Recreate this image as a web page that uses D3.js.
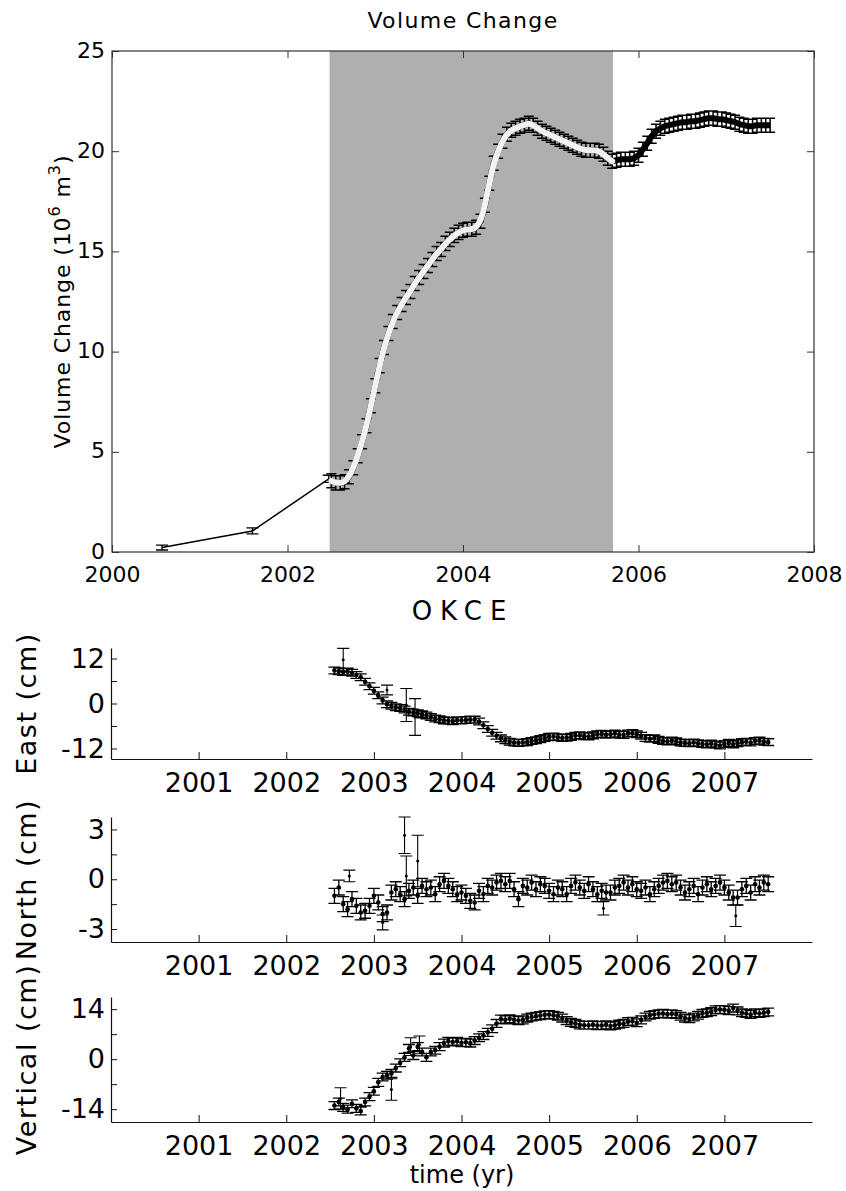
<!DOCTYPE html>
<html>
<head>
<meta charset="utf-8">
<script src="https://cdn.jsdelivr.net/npm/d3@7"></script>
<style>
  body { margin:0; background:#fff; }
  svg { display:block; font-family:"DejaVu Sans", sans-serif; }
</style>
</head>
<body>
<svg id="chart" width="846" height="1191"></svg>
<script>
// ---------- DATA ----------
// Volume change (10^6 m^3): early sparse points
const volPreYears = [2000.57, 2001.60, 2002.47];
const volPreValues = [0.22, 1.05, 3.65];
const volPreErrors = [0.12, 0.15, 0.18];

// Volume change dense series
const volYears = [
  2002.50,2002.55,2002.60,2002.65,2002.70,2002.75,2002.80,2002.85,2002.90,2002.95,
  2003.00,2003.05,2003.10,2003.15,2003.20,2003.25,2003.30,2003.35,2003.40,2003.45,
  2003.50,2003.55,2003.60,2003.65,2003.70,2003.75,2003.80,2003.85,2003.90,2003.95,
  2004.00,2004.05,2004.10,2004.15,2004.20,2004.25,2004.30,2004.35,2004.40,2004.45,
  2004.50,2004.55,2004.60,2004.65,2004.70,2004.75,2004.80,2004.85,2004.90,2004.95,
  2005.00,2005.05,2005.10,2005.15,2005.20,2005.25,2005.30,2005.35,2005.40,2005.45,
  2005.50,2005.55,2005.60,2005.65,2005.70,2005.75,2005.80,2005.85,2005.90,2005.95,
  2006.00,2006.05,2006.10,2006.15,2006.20,2006.25,2006.30,2006.35,2006.40,2006.45,
  2006.50,2006.55,2006.60,2006.65,2006.70,2006.75,2006.80,2006.85,2006.90,2006.95,
  2007.00,2007.05,2007.10,2007.15,2007.20,2007.25,2007.30,2007.35,2007.40,2007.45,
  2007.50];
const volValues = [
  3.55,3.45,3.45,3.50,3.75,4.20,4.80,5.50,6.30,7.30,
  8.30,9.30,10.20,10.90,11.50,11.95,12.35,12.70,13.00,13.40,
  13.70,14.00,14.30,14.60,14.90,15.10,15.40,15.60,15.80,15.95,
  16.05,16.10,16.10,16.20,16.50,17.30,18.40,19.40,20.00,20.50,
  20.85,21.05,21.15,21.25,21.30,21.40,21.30,21.15,21.00,20.90,
  20.80,20.70,20.60,20.50,20.40,20.30,20.20,20.10,20.05,20.05,
  20.05,20.00,19.85,19.65,19.50,19.55,19.60,19.60,19.60,19.65,
  19.80,20.10,20.40,20.75,21.00,21.15,21.25,21.30,21.35,21.40,
  21.45,21.45,21.50,21.50,21.55,21.60,21.65,21.65,21.60,21.60,
  21.55,21.50,21.45,21.35,21.30,21.25,21.25,21.30,21.30,21.30,
  21.30];
const volError = 0.35;
const shadeStart = 2002.48, shadeEnd = 2005.71;

// GPS station OKCE (cm)
const gpsYears = [
  2002.55,2002.60,2002.65,2002.70,2002.75,2002.80,2002.85,2002.90,2002.95,2003.00,
  2003.05,2003.10,2003.15,2003.20,2003.25,2003.30,2003.35,2003.40,2003.45,2003.50,
  2003.55,2003.60,2003.65,2003.70,2003.75,2003.80,2003.85,2003.90,2003.95,2004.00,
  2004.05,2004.10,2004.15,2004.20,2004.25,2004.30,2004.35,2004.40,2004.45,2004.50,
  2004.55,2004.60,2004.65,2004.70,2004.75,2004.80,2004.85,2004.90,2004.95,2005.00,
  2005.05,2005.10,2005.15,2005.20,2005.25,2005.30,2005.35,2005.40,2005.45,2005.50,
  2005.55,2005.60,2005.65,2005.70,2005.75,2005.80,2005.85,2005.90,2005.95,2006.00,
  2006.05,2006.10,2006.15,2006.20,2006.25,2006.30,2006.35,2006.40,2006.45,2006.50,
  2006.55,2006.60,2006.65,2006.70,2006.75,2006.80,2006.85,2006.90,2006.95,2007.00,
  2007.05,2007.10,2007.15,2007.20,2007.25,2007.30,2007.35,2007.40,2007.45,2007.50];
const eastValues = [
  8.8,8.6,8.4,8.5,8.2,7.6,7.0,5.8,4.6,3.4,
  2.2,0.8,-0.2,-0.6,-1.0,-1.2,-1.6,-2.2,-2.4,-2.6,
  -2.9,-3.2,-3.6,-4.0,-4.2,-4.5,-4.6,-4.7,-4.5,-4.5,
  -4.4,-4.3,-4.3,-4.8,-5.8,-6.8,-7.8,-8.6,-9.3,-9.8,
  -10.2,-10.4,-10.5,-10.4,-10.3,-10.0,-9.8,-9.5,-9.2,-8.9,
  -8.8,-9.0,-9.2,-9.1,-8.9,-8.6,-8.5,-8.7,-8.8,-8.5,
  -8.2,-8.1,-8.3,-8.2,-8.0,-8.3,-8.4,-8.0,-7.9,-8.2,
  -8.6,-9.2,-9.4,-9.3,-9.7,-10.0,-10.1,-9.9,-10.1,-10.4,
  -10.5,-10.6,-10.4,-10.6,-10.8,-10.9,-10.7,-11.0,-11.2,-10.8,
  -10.5,-10.9,-10.6,-10.3,-10.2,-10.4,-10.0,-9.9,-10.2,-10.3];
const eastError = 0.9;
const eastOutYears = [2002.65, 2003.15, 2003.37, 2003.47];
const eastOutValues = [11.7, 3.6, -0.4, -3.6];
const eastOutErrors = [3.0, 1.3, 4.4, 4.9];

const northValues = [
  -1.0,-0.5,-1.5,-1.8,-1.2,-1.6,-2.0,-1.9,-1.6,-1.0,
  -1.4,-2.1,-2.0,-0.8,-0.6,-0.9,-1.2,-0.7,-0.5,-1.0,
  -0.4,-0.6,-0.5,-0.9,-0.3,-0.1,-0.4,-0.6,-0.9,-0.8,
  -1.0,-1.3,-1.4,-0.7,-0.9,-0.4,-0.5,-0.2,-0.1,-0.3,
  -0.1,-0.6,-1.2,-0.4,-0.5,-0.2,-0.6,-0.3,-0.4,-0.7,
  -0.9,-0.5,-0.6,-0.9,-0.4,-0.2,-0.5,-0.7,-0.3,-0.6,
  -0.9,-0.7,-0.8,-0.8,-0.5,-0.4,-0.2,-0.5,-0.3,-0.6,
  -0.7,-0.5,-0.9,-0.6,-0.4,-0.2,-0.1,-0.3,-0.2,-0.5,
  -0.8,-0.6,-0.4,-0.9,-0.5,-0.3,-0.6,-0.4,-0.2,-0.5,
  -0.8,-1.1,-1.1,-0.6,-0.4,-0.8,-0.3,-0.5,-0.2,-0.3];
const northError = 0.45;
const northOutYears = [2002.72, 2003.10, 2003.35, 2003.37, 2003.50, 2005.62, 2007.13];
const northOutValues = [0.2, -2.6, 2.65, 0.2, 1.1, -1.75, -2.2];
const northOutErrors = [0.35, 0.45, 1.1, 1.2, 1.55, 0.4, 0.65];

const vertValues = [
  -13.0,-12.0,-13.5,-14.0,-12.5,-13.8,-14.5,-12.0,-10.5,-9.0,
  -6.5,-5.0,-4.5,-4.0,-2.5,-1.0,0.5,3.0,1.0,3.5,
  2.0,0.5,2.0,2.5,3.5,4.5,5.0,4.8,5.0,4.6,
  4.7,4.5,5.2,6.0,6.6,7.5,8.5,10.0,11.2,11.0,
  11.3,11.0,10.8,11.0,11.5,11.8,12.0,12.2,12.4,12.5,
  12.3,12.0,11.5,10.8,10.3,10.0,9.6,9.5,9.5,9.6,
  9.4,9.4,9.6,9.3,9.5,9.8,10.0,10.5,10.6,10.2,
  11.0,11.8,12.3,12.5,12.7,12.8,12.6,12.7,12.5,12.0,
  11.5,11.3,11.8,12.3,12.8,13.0,13.3,13.8,13.9,13.8,
  13.6,14.3,13.5,13.0,12.8,12.5,13.0,12.8,13.0,13.2];
const vertError = 1.1;
const vertOutYears = [2002.62, 2003.20, 2003.42, 2003.52];
const vertOutValues = [-11.0, -8.5, 3.5, 4.0];
const vertOutErrors = [3.0, 3.0, 2.5, 2.5];

const topXTicks = [2000, 2002, 2004, 2006, 2008];
const topYTicks = [0, 5, 10, 15, 20, 25];
const lowXTicks = [2001, 2002, 2003, 2004, 2005, 2006, 2007];
const eastTicks = [-12, -6, 0, 6, 12];
const eastLabels = [-12, 0, 12];
const northTicks = [-3, -1.5, 0, 1.5, 3];
const northLabels = [-3, 0, 3];
const vertTicks = [-14, -7, 0, 7, 14];
const vertLabels = [-14, 0, 14];

// ---------- DRAW ----------
const svg = d3.select("#chart");
svg.append("rect").attr("width", 846).attr("height", 1191).attr("fill", "#fff");

function errorBars(g, xs, ys, es, x, y, hw, color, sw, dotR) {
  const data = xs.map((d, i) => ({x: d, v: ys[i], e: Array.isArray(es) ? es[i] : es}));
  const eb = g.append("g").attr("stroke", color).attr("stroke-width", sw).attr("fill", "none");
  const p = d3.path();
  data.forEach(d => {
    const cx = x(d.x), y1 = y(d.v - d.e), y2 = y(d.v + d.e);
    p.moveTo(cx, y1); p.lineTo(cx, y2);
    p.moveTo(cx - hw, y1); p.lineTo(cx + hw, y1);
    p.moveTo(cx - hw, y2); p.lineTo(cx + hw, y2);
  });
  eb.append("path").attr("d", p.toString());
  if (dotR) {
    g.append("g").selectAll("circle").data(data).join("circle")
      .attr("cx", d => x(d.x)).attr("cy", d => y(d.v)).attr("r", dotR).attr("fill", color);
  }
}

// ---- Top chart ----
const tx = d3.scaleLinear().domain([2000, 2008]).range([112, 814]);
const ty = d3.scaleLinear().domain([0, 25]).range([552, 51]);
const topG = svg.append("g");

topG.append("rect")
  .attr("x", tx(shadeStart)).attr("y", ty(25))
  .attr("width", tx(shadeEnd) - tx(shadeStart)).attr("height", ty(0) - ty(25))
  .attr("fill", "#afafaf");

const preYears = volPreYears.concat([volYears[0]]);
const preVals = volPreValues.concat([volValues[0]]);
topG.append("path")
  .attr("d", d3.line().x((d, i) => tx(preYears[i])).y(d => ty(d))(preVals))
  .attr("fill", "none").attr("stroke", "#000").attr("stroke-width", 1.5);
errorBars(topG, volPreYears, volPreValues, volPreErrors, tx, ty, 6, "#000", 1.3, 0);

topG.append("path")
  .attr("d", d3.line().x((d, i) => tx(volYears[i])).y(d => ty(d))(volValues))
  .attr("fill", "none").attr("stroke", "#000").attr("stroke-width", 6)
  .attr("stroke-linejoin", "round");
errorBars(topG, volYears, volValues, volError, tx, ty, 5, "#000", 1.5, 0);

const shadeIdx = volYears.map((d, i) => i).filter(i => volYears[i] >= shadeStart && volYears[i] <= shadeEnd);
topG.append("path")
  .attr("d", d3.line().curve(d3.curveBasis).x(i => tx(volYears[i])).y(i => ty(volValues[i]))(shadeIdx))
  .attr("fill", "none").attr("stroke", "#f2f2f2").attr("stroke-width", 6)
  .attr("stroke-linecap", "round");

const axColor = "#333";
const bx = topG.append("g").attr("transform", `translate(0,${ty(0)})`)
  .call(d3.axisBottom(tx).tickValues(topXTicks).tickSize(-7).tickSizeOuter(0).tickPadding(14).tickFormat(d3.format("d")));
const tX = topG.append("g").attr("transform", `translate(0,${ty(25)})`)
  .call(d3.axisTop(tx).tickValues(topXTicks).tickSize(-7).tickSizeOuter(0).tickFormat(""));
const ly = topG.append("g").attr("transform", `translate(${tx(2000)},0)`)
  .call(d3.axisLeft(ty).tickValues(topYTicks).tickSize(-7).tickSizeOuter(0).tickPadding(7).tickFormat(d3.format("d")));
const ry = topG.append("g").attr("transform", `translate(${tx(2008)},0)`)
  .call(d3.axisRight(ty).tickValues(topYTicks).tickSize(-7).tickSizeOuter(0).tickFormat(""));
[bx, tX, ly, ry].forEach(g => {
  g.select(".domain").remove();
  g.selectAll("line").attr("stroke", axColor);
  g.selectAll("text").attr("font-size", 22).attr("fill", "#000").attr("font-family", "DejaVu Sans");
});
ly.selectAll("text").attr("dy", "0.28em");
topG.append("rect").attr("x", tx(2000)).attr("y", ty(25))
  .attr("width", tx(2008) - tx(2000)).attr("height", ty(0) - ty(25))
  .attr("fill", "none").attr("stroke", axColor).attr("stroke-width", 1.2);

topG.append("text").attr("x", (tx(2000) + tx(2008)) / 2).attr("y", 28)
  .attr("text-anchor", "middle").attr("font-size", 22).attr("letter-spacing", 1.4)
  .text("Volume Change");

const yl = topG.append("text").attr("transform", `translate(70,${(ty(0) + ty(25)) / 2}) rotate(-90)`)
  .attr("text-anchor", "middle").attr("font-size", 22).attr("letter-spacing", 0.9);
yl.append("tspan").text("Volume Change (10");
yl.append("tspan").attr("font-size", 16).attr("dy", -10).text("6");
yl.append("tspan").attr("dy", 10).text(" m");
yl.append("tspan").attr("font-size", 16).attr("dy", -10).text("3");
yl.append("tspan").attr("dy", 10).text(")");

svg.append("text").attr("x", 463).attr("y", 620).attr("text-anchor", "middle")
  .attr("font-size", 26).attr("letter-spacing", 8).text("OKCE");

// ---- Lower panels ----
const lx = d3.scaleLinear().domain([2000, 2008]).range([111, 812]);

function panel(cfg) {
  const y = d3.scaleLinear().domain(cfg.domain).range(cfg.range);
  const g = svg.append("g");
  errorBars(g, gpsYears, cfg.values, cfg.err, lx, y, 6, "#000", 1.3, 2.3);
  errorBars(g, cfg.outYears, cfg.outValues, cfg.outErrors, lx, y, 6, "#000", 1.1, 1.5);

  const xa = g.append("g").attr("transform", `translate(0,${cfg.range[0]})`)
    .call(d3.axisBottom(lx).tickValues(lowXTicks).tickSize(-7).tickSizeOuter(0).tickPadding(14).tickFormat(d3.format("d")));
  const ya = g.append("g").attr("transform", `translate(${lx(2000)},0)`)
    .call(d3.axisLeft(y).tickValues(cfg.ticks).tickSize(-6).tickSizeOuter(0).tickPadding(6)
      .tickFormat(d => cfg.labels.includes(d) ? String(d) : ""));
  [xa, ya].forEach(a => {
    a.select(".domain").attr("stroke", "#111").attr("stroke-width", 1.2);
    a.selectAll("line").attr("stroke", "#111");
    a.selectAll("text").attr("font-size", 27).attr("fill", "#000").attr("font-family", "DejaVu Sans");
  });
  xa.selectAll("text").attr("dy", "0.71em");
  g.append("text")
    .attr("transform", `translate(36,${(cfg.range[0] + cfg.range[1]) / 2}) rotate(-90)`)
    .attr("text-anchor", "middle").attr("font-size", 27).attr("letter-spacing", 1.5)
    .text(cfg.label);
}

panel({domain: [-14.8, 14.8], range: [759, 648], values: eastValues, err: eastError,
  outYears: eastOutYears, outValues: eastOutValues, outErrors: eastOutErrors,
  ticks: eastTicks, labels: eastLabels, label: "East (cm)"});
panel({domain: [-3.78, 3.75], range: [942, 817], values: northValues, err: northError,
  outYears: northOutYears, outValues: northOutValues, outErrors: northOutErrors,
  ticks: northTicks, labels: northLabels, label: "North (cm)"});
panel({domain: [-17.6, 17.4], range: [1122, 997], values: vertValues, err: vertError,
  outYears: vertOutYears, outValues: vertOutValues, outErrors: vertOutErrors,
  ticks: vertTicks, labels: vertLabels, label: "Vertical (cm)"});

svg.append("text").attr("x", 462).attr("y", 1183).attr("text-anchor", "middle")
  .attr("font-size", 24).text("time (yr)");
</script>
</body>
</html>
